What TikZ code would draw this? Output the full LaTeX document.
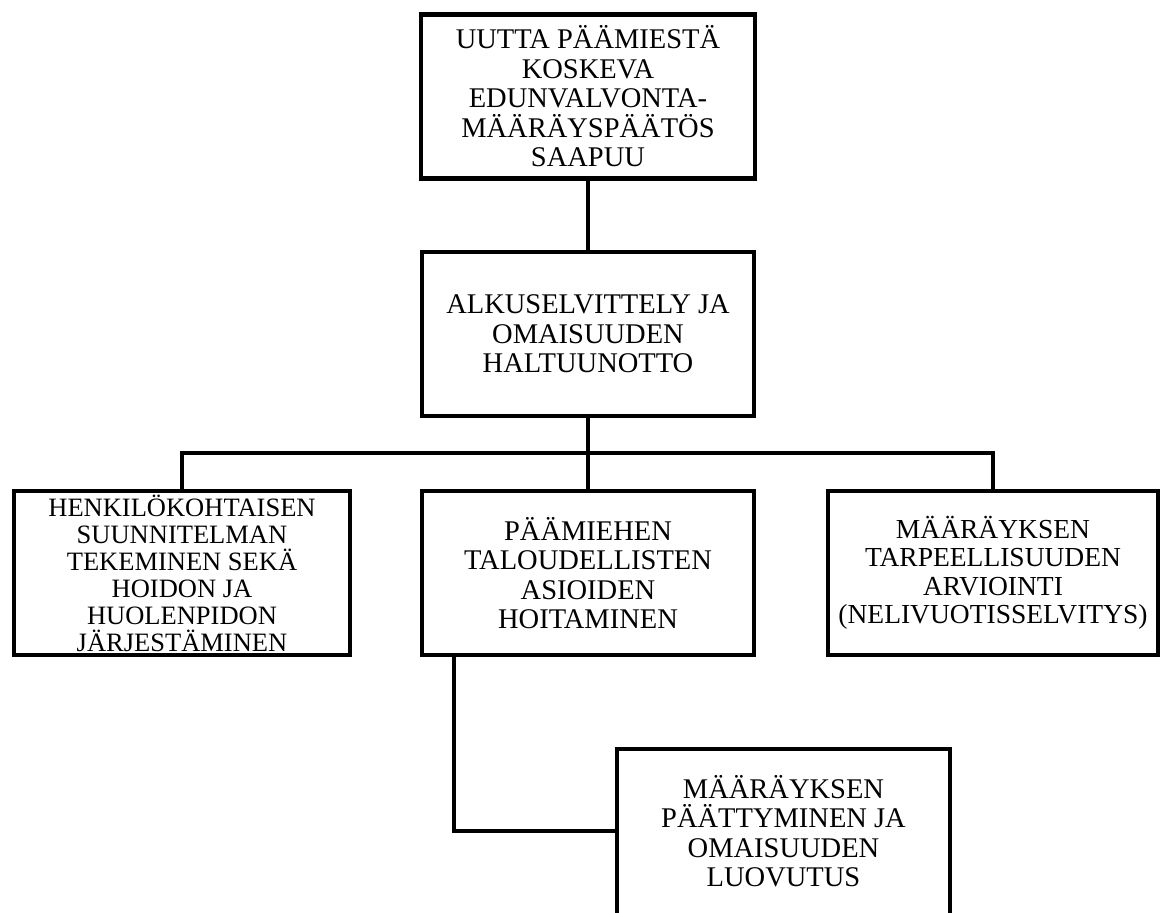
\documentclass[tikz,border=0pt]{standalone}
\usepackage{fontspec}
\setmainfont{Liberation Serif}
\begin{document}
\begin{tikzpicture}[x=1pt,y=-1pt,
  box/.style={draw=black,line width=4.6pt,fill=white,align=center,inner sep=0pt,
    minimum height=164pt,font=\fontsize{28.5}{29.5}\selectfont},
  boxtext/.style={align=center,inner sep=0pt,font=\fontsize{28.5}{29.5}\selectfont},
  conn/.style={draw=black,line width=4.4pt}]
\useasboundingbox (0,0) rectangle (1171,913);
\clip (0,0) rectangle (1171,913);
\node[box,minimum width=334pt] (top) at (588,96.5) {UUTTA PÄÄMIESTÄ\\KOSKEVA\\EDUNVALVONTA-\\MÄÄRÄYSPÄÄTÖS\\SAAPUU};
\node[box,minimum width=332pt] (alku) at (588,334) {ALKUSELVITTELY JA\\OMAISUUDEN\\HALTUUNOTTO};
\node[box,minimum width=336pt,font=\fontsize{26.5}{27}\selectfont] (left) at (182,573) {HENKILÖKOHTAISEN\\SUUNNITELMAN\\TEKEMINEN SEKÄ\\HOIDON JA\\HUOLENPIDON\\JÄRJESTÄMINEN};
\node[box,minimum width=332pt] (mid) at (588,573) {PÄÄMIEHEN\\TALOUDELLISTEN\\ASIOIDEN\\HOITAMINEN};
\node[box,minimum width=330pt,font=\fontsize{27.5}{28.5}\selectfont] (right) at (993,573) {MÄÄRÄYKSEN\\TARPEELLISUUDEN\\ARVIOINTI\\(NELIVUOTISSELVITYS)};
\node[box,minimum width=333pt,minimum height=184pt] (end) at (783.5,841) {};
\node[boxtext] (endtxt) at (783.5,831) {MÄÄRÄYKSEN\\PÄÄTTYMINEN JA\\OMAISUUDEN\\LUOVUTUS};
\coordinate (bus) at (588,453);
\draw[conn] (top.south) -- (alku.north);
\draw[conn] (alku.south) -- (mid.north);
\draw[conn] (left.north) |- (bus) -| (right.north);
\draw[conn] ([xshift=-134pt]mid.south) |- ([yshift=10pt]end.west);
\end{tikzpicture}
\end{document}
